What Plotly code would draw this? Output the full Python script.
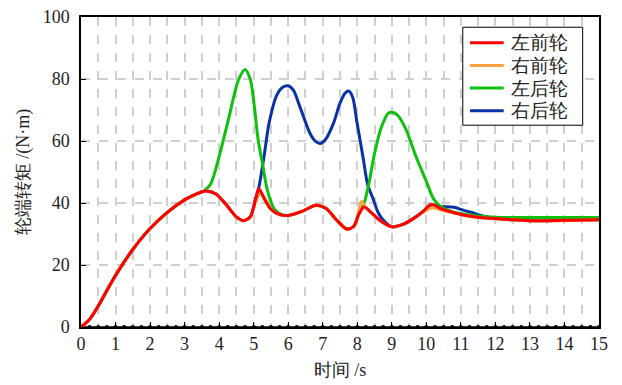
import numpy as np
import plotly.graph_objects as go

# ---- data: wheel-end torque (N·m) versus time (s) ----
t_lf = [0, 0.25, 0.5, 0.75, 1.0, 1.25, 1.5, 1.75, 2.0, 2.5, 3.0, 3.3, 3.6, 3.9, 4.2, 4.5,
        4.7, 4.9, 5.05, 5.15, 5.3, 5.5, 5.75, 6.0, 6.4, 6.8, 7.1, 7.4, 7.7, 7.9, 8.05, 8.2,
        8.4, 8.7, 9.0, 9.3, 9.6, 9.9, 10.1, 10.2, 10.4, 10.7, 11.0, 11.5, 12.0, 12.5, 13.0,
        13.5, 14.0, 14.5, 15.0]
v_lf = [0, 2.5, 6.8, 11.8, 16.6, 21.0, 25.0, 28.6, 31.8, 37.0, 41.0, 42.7, 43.9, 43.0, 39.5,
        35.5, 34.3, 35.5, 41.0, 44.7, 41.5, 38.0, 36.3, 36.0, 37.3, 39.3, 38.2, 34.5, 31.6,
        32.5, 36.5, 38.7, 37.0, 34.0, 32.3, 33.0, 34.8, 37.2, 39.4, 39.5, 38.3, 37.2, 36.3,
        35.4, 35.0, 34.6, 34.3, 34.3, 34.4, 34.5, 34.6]

t_rf = [0, 0.25, 0.5, 0.75, 1.0, 1.25, 1.5, 1.75, 2.0, 2.5, 3.0, 3.3, 3.6, 3.9, 4.2, 4.5,
        4.7, 4.9, 5.05, 5.2, 5.35, 5.5, 5.75, 6.0, 6.4, 6.8, 7.1, 7.4, 7.7, 7.9, 8.0, 8.12,
        8.25, 8.45, 8.7, 9.0, 9.3, 9.6, 9.9, 10.1, 10.2, 10.4, 10.7, 11.0, 11.5, 12.0, 12.5,
        13.0, 13.5, 14.0, 14.5, 15.0]
v_rf = [0, 2.5, 6.8, 11.8, 16.6, 21.0, 25.0, 28.6, 31.8, 37.0, 41.0, 42.7, 43.9, 43.0, 39.5,
        35.5, 34.3, 35.5, 40.0, 43.2, 41.0, 38.0, 36.3, 36.0, 37.3, 39.3, 38.2, 34.5, 31.6,
        32.5, 35.5, 40.5, 38.5, 36.3, 34.0, 32.3, 33.0, 34.8, 37.0, 38.3, 38.5, 37.8, 37.0,
        36.2, 35.3, 34.9, 34.5, 34.2, 34.2, 34.3, 34.4, 34.5]

t_lr = [0, 0.25, 0.5, 0.75, 1.0, 1.25, 1.5, 1.75, 2.0, 2.5, 3.0, 3.3, 3.55, 3.75, 4.0, 4.27,
        4.56, 4.75, 4.9, 5.0, 5.13, 5.25, 5.4, 5.6, 5.8, 6.0, 6.4, 6.8, 7.1, 7.4, 7.7, 7.9,
        8.05, 8.2, 8.35, 8.5, 8.7, 8.9, 9.0, 9.15, 9.4, 9.7, 10.0, 10.2, 10.4, 10.7, 11.0,
        11.5, 12.0, 13.0, 14.0, 15.0]
v_lr = [0, 2.5, 6.8, 11.8, 16.6, 21.0, 25.0, 28.6, 31.8, 37.0, 41.0, 42.7, 43.9, 46.0, 55.0,
        67.0, 79.7, 83.1, 80.0, 73.0, 60.3, 53.0, 44.0, 38.0, 36.3, 36.0, 37.3, 39.3, 38.2,
        34.5, 31.6, 32.5, 36.5, 40.0, 47.0, 56.0, 64.5, 69.0, 69.3, 68.5, 64.0, 55.0, 47.0,
        41.5, 39.0, 37.4, 36.6, 35.8, 35.4, 35.3, 35.3, 35.3]

t_rr = [0, 0.25, 0.5, 0.75, 1.0, 1.25, 1.5, 1.75, 2.0, 2.5, 3.0, 3.3, 3.6, 3.9, 4.2, 4.5,
        4.7, 4.9, 5.05, 5.15, 5.3, 5.45, 5.67, 5.85, 6.0, 6.15, 6.34, 6.63, 6.78, 6.92, 7.08,
        7.31, 7.5, 7.65, 7.76, 7.87, 7.98, 8.08, 8.18, 8.3, 8.47, 8.6, 8.75, 9.0, 9.3, 9.6,
        9.9, 10.1, 10.2, 10.4, 10.6, 10.8, 11.07, 11.3, 11.55, 11.8, 12.0, 12.5, 13.0, 13.5,
        14.0, 14.5, 15.0]
v_rr = [0, 2.5, 6.8, 11.8, 16.6, 21.0, 25.0, 28.6, 31.8, 37.0, 41.0, 42.7, 43.9, 43.0, 39.5,
        35.5, 34.3, 35.5, 41.0, 45.0, 55.0, 66.0, 74.8, 77.4, 77.8, 76.4, 71.0, 62.5, 60.0,
        59.2, 60.5, 65.7, 72.2, 75.5, 76.1, 74.0, 66.8, 60.3, 53.9, 46.0, 41.0, 37.0, 34.5,
        32.4, 33.0, 34.8, 37.2, 39.2, 39.3, 38.8, 38.8, 38.6, 37.7, 37.0, 36.1, 35.4, 35.1,
        34.6, 34.3, 34.3, 34.4, 34.5, 34.6]

x_ticks = list(range(0, 16))
y_ticks = [0, 20, 40, 60, 80, 100]

# legend order (top to bottom)
series = [
    ("左前轮", t_lf, v_lf, "#ff0000"),
    ("右前轮", t_rf, v_rf, "#ffa040"),
    ("左后轮", t_lr, v_lr, "#10c010"),
    ("右后轮", t_rr, v_rr, "#0a32a8"),
]

SERIF = "serif"

fig = go.Figure()

# dotted baseline along the time axis
t_dots = np.arange(0, 15.001, 0.25)
fig.add_trace(go.Scatter(
    x=t_dots, y=np.zeros_like(t_dots), mode="lines+markers",
    line=dict(color="black", width=1.5),
    marker=dict(color="black", size=4),
    showlegend=False, hoverinfo="skip", cliponaxis=False,
))

# curves drawn back to front so the front-left wheel sits on top
for name, t, v, color in reversed(series):
    fig.add_trace(go.Scatter(
        x=t, y=v, name=name, mode="lines",
        line=dict(color=color, width=3, shape="spline", smoothing=0.8),
        showlegend=False,
    ))

# legend box in paper coordinates
box_x0, box_x1, box_y1, box_y0 = 0.737, 0.9685, 0.967, 0.651
row_y0, row_step = 0.917, 0.0732
line_x0, line_x1, text_x = 0.751, 0.816, 0.829
shapes = [dict(type="rect", xref="paper", yref="paper", x0=box_x0, x1=box_x1,
               y0=box_y0, y1=box_y1, line=dict(color="black", width=1),
               fillcolor="white", layer="above")]
annotations = []
for i, (name, _, _, color) in enumerate(series):
    yy = row_y0 - i * row_step
    shapes.append(dict(type="line", xref="paper", yref="paper", x0=line_x0, x1=line_x1,
                       y0=yy, y1=yy, line=dict(color=color, width=3), layer="above"))
    annotations.append(dict(text=name, xref="paper", yref="paper", x=text_x, y=yy,
                            xanchor="left", yanchor="middle", showarrow=False,
                            height=21, valign="middle", borderpad=0,
                            font=dict(family=SERIF, size=19, color="#222")))

fig.update_layout(
    width=622, height=385,
    margin=dict(l=81, r=23, t=17, b=58),
    paper_bgcolor="white", plot_bgcolor="white",
    font=dict(family=SERIF, size=17, color="#222"),
    showlegend=False,
    shapes=shapes, annotations=annotations,
)

fig.update_xaxes(
    range=[0, 15], tickvals=x_ticks, ticktext=[str(v) for v in x_ticks],
    ticks="inside", ticklen=5, tickcolor="black", tickwidth=1.2,
    showline=True, linecolor="black", linewidth=1.5, mirror=True,
    showgrid=True, gridcolor="#cfcfcf", gridwidth=1.5, griddash="dash",
    minor=dict(dtick=0.5, showgrid=True, gridcolor="#cfcfcf", gridwidth=1.5, griddash="dash"),
    zeroline=False, automargin=False,
    tickfont=dict(family=SERIF, size=18),
    title=dict(text="时间 /s", font=dict(family=SERIF, size=18), standoff=10),
)
fig.update_yaxes(
    range=[0, 100], tickvals=y_ticks, ticktext=[str(v) for v in y_ticks],
    ticks="inside", ticklen=5, tickcolor="black", tickwidth=1.2,
    showline=True, linecolor="black", linewidth=1.5, mirror=True,
    showgrid=True, gridcolor="#cfcfcf", gridwidth=1.5, griddash="dash",
    zeroline=False, ticklabelstandoff=6, automargin=False,
    tickfont=dict(family=SERIF, size=18),
    title=dict(text="轮端转矩 /(N·m)", font=dict(family=SERIF, size=18), standoff=8),
)

fig.write_html("out.html")
